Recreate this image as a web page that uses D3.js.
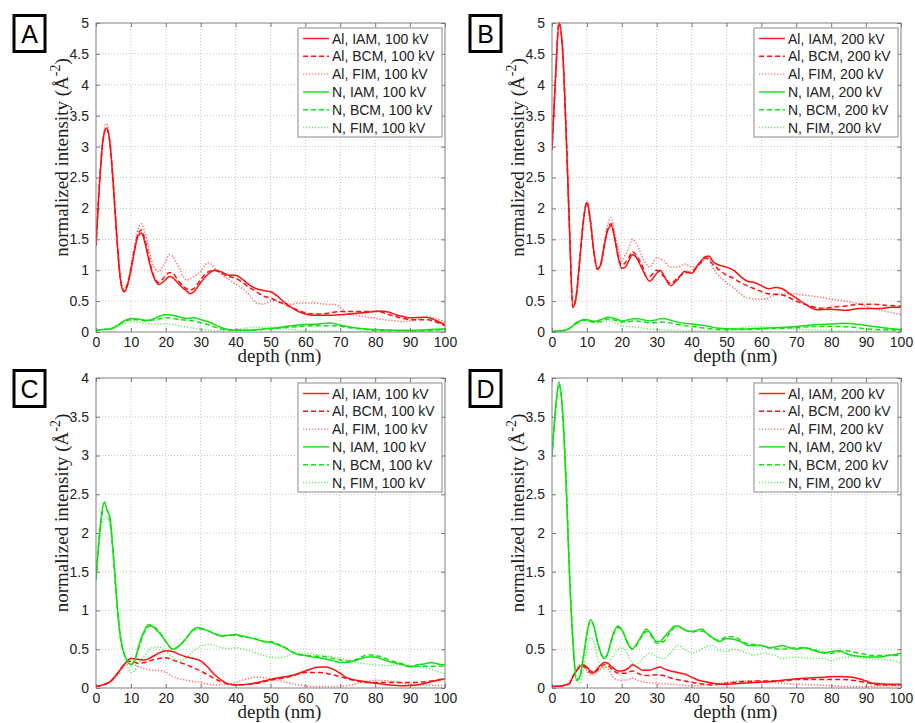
<!DOCTYPE html>
<html>
<head>
<meta charset="utf-8">
<script src="https://cdn.jsdelivr.net/npm/d3@7"></script>
<style>
  body { margin: 0; background: #fff; }
  svg { display: block; }
</style>
</head>
<body>
<svg id="chart"></svg>
<script>
// ---- labels ----
const elements = ["Al", "N"];
const models = ["IAM", "BCM", "FIM"];
const voltages = ["100 kV", "200 kV"];
const panelIds = ["A", "B", "C", "D"];
const depthTicks = d3.range(0, 101, 10);

// ---- values: [depth (nm), normalized intensity] ----
// Panel A: Al at 100 kV
const A_Al_IAM = [[0,1.4],[1,2.4],[2,3.1],[3,3.3],[4,3.05],[5,2.35],[6,1.5],[7,0.85],[8,0.65],[9,0.75],[10,1.0],[11,1.3],[12,1.55],[13,1.6],[14,1.45],[15,1.2],[16,0.98],[17,0.83],[18,0.77],[19,0.8],[20,0.85],[21,0.9],[22,0.88],[23,0.82],[24,0.76],[26,0.66],[27,0.62],[28,0.65],[30,0.8],[32,0.93],[34,1.0],[36,0.97],[38,0.92],[40,0.92],[42,0.85],[44,0.76],[46,0.7],[48,0.67],[50,0.65],[52,0.58],[54,0.48],[56,0.4],[58,0.33],[60,0.29],[62,0.27],[66,0.27],[70,0.28],[74,0.3],[78,0.32],[81,0.34],[84,0.32],[86,0.28],[88,0.25],[90,0.23],[94,0.24],[96,0.22],[98,0.17],[100,0.12]];
const A_Al_BCM = [[0,1.4],[1,2.4],[2,3.1],[3,3.3],[4,3.05],[5,2.35],[6,1.5],[7,0.85],[8,0.66],[9,0.77],[10,1.02],[11,1.33],[12,1.58],[13,1.65],[14,1.5],[15,1.25],[16,1.0],[17,0.85],[18,0.8],[19,0.85],[20,0.92],[21,0.96],[22,0.95],[23,0.88],[24,0.8],[26,0.7],[27,0.68],[28,0.7],[30,0.85],[32,0.97],[34,1.0],[36,0.95],[38,0.9],[40,0.87],[42,0.8],[44,0.72],[46,0.65],[48,0.58],[50,0.55],[52,0.5],[54,0.45],[56,0.4],[58,0.35],[60,0.31],[63,0.29],[66,0.3],[70,0.33],[74,0.33],[78,0.33],[81,0.33],[84,0.28],[88,0.22],[90,0.2],[95,0.2],[98,0.15],[100,0.1]];
const A_Al_FIM = [[0,1.4],[1,2.45],[2,3.15],[3,3.37],[4,3.1],[5,2.4],[6,1.55],[7,0.9],[8,0.7],[9,0.8],[10,1.05],[11,1.38],[12,1.65],[13,1.75],[14,1.62],[15,1.38],[16,1.15],[17,1.02],[18,0.98],[19,1.05],[20,1.15],[21,1.25],[22,1.22],[23,1.12],[24,1.02],[25,0.9],[26,0.84],[27,0.86],[28,0.9],[30,0.98],[32,1.12],[33,1.1],[34,1.03],[36,0.93],[38,0.85],[40,0.78],[42,0.7],[44,0.6],[46,0.47],[48,0.45],[50,0.5],[52,0.5],[54,0.45],[56,0.45],[58,0.47],[62,0.47],[66,0.45],[68,0.45],[70,0.4],[72,0.3],[76,0.26],[80,0.22],[84,0.19],[88,0.17],[92,0.2],[95,0.25],[97,0.22],[100,0.16]];
const A_N_IAM = [[0,0.03],[2,0.04],[4,0.05],[6,0.1],[8,0.18],[10,0.22],[12,0.21],[14,0.19],[16,0.2],[18,0.25],[20,0.28],[22,0.27],[24,0.24],[26,0.22],[28,0.23],[30,0.2],[32,0.17],[34,0.12],[36,0.07],[38,0.04],[40,0.03],[44,0.03],[48,0.05],[52,0.07],[56,0.1],[60,0.12],[64,0.13],[67,0.145],[70,0.11],[74,0.07],[80,0.04],[86,0.03],[90,0.03],[96,0.04],[100,0.05]];
const A_N_BCM = [[0,0.03],[2,0.04],[4,0.05],[6,0.1],[8,0.17],[10,0.2],[12,0.2],[14,0.18],[16,0.19],[18,0.21],[20,0.23],[22,0.22],[24,0.2],[26,0.19],[28,0.18],[30,0.15],[32,0.12],[34,0.08],[36,0.05],[38,0.03],[44,0.03],[50,0.05],[56,0.08],[62,0.1],[68,0.1],[74,0.06],[80,0.03],[90,0.02],[100,0.04]];
const A_N_FIM = [[0,0.03],[4,0.04],[6,0.08],[8,0.14],[10,0.17],[12,0.16],[14,0.14],[16,0.13],[20,0.13],[24,0.1],[28,0.06],[32,0.03],[36,0.02],[40,0.04],[44,0.07],[48,0.08],[52,0.07],[56,0.04],[60,0.02],[70,0.01],[80,0.01],[90,0.01],[100,0.02]];

// Panel B: Al at 200 kV
const B_Al_IAM = [[0,2.95],[1,4.1],[2,5.0],[3,4.6],[4,3.3],[5,1.7],[6,0.4],[7,0.6],[8,1.2],[9,1.8],[10,2.1],[11,1.8],[12,1.3],[13,1.02],[14,1.1],[15,1.4],[16,1.65],[17,1.72],[18,1.5],[19,1.2],[20,1.03],[21,1.05],[22,1.15],[23,1.25],[24,1.22],[26,1.0],[28,0.82],[30,0.95],[31,1.0],[32,0.92],[34,0.75],[36,0.85],[38,0.98],[40,0.95],[42,1.1],[44,1.22],[45,1.23],[46,1.15],[48,1.08],[50,1.05],[52,1.0],[54,0.9],[56,0.82],[58,0.8],[60,0.75],[62,0.7],[64,0.72],[66,0.7],[68,0.62],[70,0.55],[72,0.47],[74,0.4],[76,0.36],[80,0.37],[84,0.35],[88,0.38],[90,0.38],[94,0.38],[97,0.4],[100,0.4]];
const B_Al_BCM = [[0,2.95],[1,4.1],[2,5.0],[3,4.6],[4,3.3],[5,1.7],[6,0.4],[7,0.6],[8,1.2],[9,1.8],[10,2.1],[11,1.8],[12,1.3],[13,1.02],[14,1.1],[15,1.42],[16,1.68],[17,1.75],[18,1.52],[19,1.22],[20,1.08],[21,1.12],[22,1.2],[23,1.3],[24,1.25],[26,1.05],[27,0.9],[28,0.9],[30,1.0],[32,0.9],[34,0.78],[36,0.88],[38,0.95],[40,0.98],[42,1.08],[44,1.2],[46,1.1],[48,1.0],[50,0.92],[52,0.87],[54,0.8],[58,0.7],[62,0.62],[66,0.6],[70,0.5],[74,0.42],[78,0.38],[80,0.4],[84,0.42],[88,0.45],[92,0.45],[96,0.43],[100,0.42]];
const B_Al_FIM = [[0,2.95],[1,4.1],[2,5.0],[3,4.6],[4,3.3],[5,1.7],[6,0.4],[7,0.6],[8,1.2],[9,1.8],[10,2.1],[11,1.8],[12,1.3],[13,1.0],[14,1.12],[15,1.45],[16,1.75],[17,1.85],[18,1.6],[19,1.35],[20,1.15],[21,1.25],[22,1.35],[23,1.5],[24,1.45],[26,1.2],[28,1.05],[30,1.2],[32,1.15],[34,1.05],[36,1.05],[38,1.1],[40,1.05],[42,1.08],[44,1.18],[45,1.2],[46,1.05],[48,0.9],[50,0.8],[52,0.72],[54,0.62],[56,0.55],[60,0.53],[62,0.55],[64,0.6],[68,0.62],[72,0.6],[76,0.57],[80,0.53],[84,0.5],[88,0.45],[92,0.38],[96,0.33],[100,0.28]];
const B_N_IAM = [[0,0.01],[3,0.02],[5,0.06],[7,0.15],[9,0.2],[10,0.2],[12,0.17],[14,0.2],[16,0.24],[18,0.22],[20,0.18],[22,0.2],[24,0.22],[26,0.2],[28,0.18],[30,0.2],[32,0.22],[34,0.19],[36,0.16],[40,0.13],[44,0.1],[48,0.06],[52,0.05],[56,0.05],[60,0.06],[64,0.07],[68,0.08],[72,0.1],[76,0.12],[80,0.13],[84,0.14],[88,0.12],[92,0.09],[96,0.06],[100,0.04]];
const B_N_BCM = [[0,0.01],[3,0.02],[5,0.06],[7,0.14],[9,0.19],[10,0.19],[12,0.16],[14,0.17],[16,0.21],[18,0.19],[20,0.16],[22,0.17],[24,0.18],[28,0.15],[32,0.16],[36,0.12],[40,0.09],[44,0.06],[50,0.04],[56,0.04],[60,0.05],[70,0.07],[76,0.09],[80,0.09],[86,0.08],[90,0.05],[100,0.03]];
const B_N_FIM = [[0,0.01],[3,0.02],[5,0.05],[7,0.13],[9,0.19],[10,0.18],[12,0.15],[14,0.16],[16,0.18],[18,0.15],[20,0.1],[24,0.08],[28,0.05],[32,0.03],[40,0.02],[50,0.03],[54,0.07],[58,0.09],[62,0.08],[66,0.06],[72,0.04],[80,0.02],[90,0.01],[100,0.02]];

// Panel C: N at 100 kV
const C_Al_IAM = [[0,0.02],[2,0.04],[4,0.08],[6,0.18],[8,0.3],[10,0.38],[12,0.37],[14,0.36],[16,0.4],[18,0.45],[20,0.48],[22,0.47],[24,0.43],[26,0.4],[28,0.38],[30,0.35],[32,0.27],[34,0.17],[36,0.1],[38,0.05],[40,0.04],[44,0.05],[48,0.09],[52,0.13],[56,0.16],[60,0.22],[64,0.27],[66,0.27],[68,0.24],[70,0.19],[72,0.13],[76,0.09],[80,0.06],[84,0.04],[88,0.03],[92,0.04],[96,0.08],[100,0.12]];
const C_Al_BCM = [[0,0.02],[2,0.04],[4,0.08],[6,0.18],[8,0.3],[10,0.35],[12,0.32],[14,0.33],[16,0.36],[18,0.38],[20,0.39],[22,0.36],[24,0.33],[26,0.3],[28,0.26],[30,0.22],[32,0.17],[34,0.12],[36,0.08],[38,0.05],[40,0.04],[46,0.06],[50,0.1],[56,0.15],[60,0.2],[64,0.2],[68,0.17],[72,0.12],[76,0.08],[80,0.07],[84,0.07],[90,0.07],[96,0.09],[100,0.12]];
const C_Al_FIM = [[0,0.02],[2,0.04],[4,0.08],[6,0.15],[8,0.28],[10,0.32],[12,0.28],[14,0.25],[16,0.23],[18,0.23],[20,0.2],[22,0.15],[26,0.1],[30,0.07],[34,0.04],[38,0.05],[42,0.1],[46,0.14],[50,0.12],[54,0.08],[58,0.04],[62,0.02],[68,0.02],[72,0.03],[76,0.07],[80,0.1],[84,0.09],[88,0.06],[94,0.04],[100,0.03]];
const C_N_IAM = [[0,1.4],[1,2.0],[2,2.35],[2.5,2.4],[3,2.32],[4,2.2],[5,1.7],[6,1.1],[7,0.65],[8,0.45],[9,0.35],[10,0.3],[11,0.35],[12,0.5],[13,0.65],[14,0.75],[15,0.82],[16,0.8],[18,0.72],[20,0.6],[22,0.5],[24,0.55],[26,0.65],[28,0.76],[29,0.78],[30,0.77],[32,0.74],[34,0.7],[36,0.67],[38,0.68],[40,0.69],[42,0.67],[44,0.65],[46,0.63],[48,0.6],[50,0.59],[52,0.56],[54,0.52],[56,0.47],[58,0.43],[60,0.42],[62,0.4],[64,0.39],[66,0.37],[68,0.35],[70,0.33],[72,0.33],[74,0.35],[76,0.38],[78,0.4],[80,0.4],[82,0.37],[84,0.34],[86,0.32],[88,0.3],[90,0.27],[92,0.3],[94,0.31],[96,0.33],[98,0.31],[100,0.3]];
const C_N_BCM = [[0,1.4],[1,1.95],[2,2.28],[3,2.3],[4,2.15],[5,1.7],[6,1.1],[7,0.65],[8,0.45],[9,0.35],[10,0.3],[11,0.35],[12,0.48],[13,0.62],[14,0.73],[15,0.79],[16,0.8],[18,0.73],[20,0.6],[22,0.5],[24,0.55],[26,0.65],[28,0.75],[30,0.76],[32,0.74],[34,0.7],[36,0.67],[38,0.68],[40,0.68],[42,0.66],[44,0.65],[46,0.63],[48,0.6],[50,0.6],[52,0.57],[54,0.53],[56,0.47],[58,0.44],[60,0.42],[64,0.41],[68,0.38],[70,0.36],[72,0.35],[74,0.36],[76,0.4],[78,0.43],[80,0.42],[82,0.4],[84,0.36],[88,0.31],[90,0.28],[94,0.28],[98,0.28],[100,0.29]];
const C_N_FIM = [[0,1.4],[1,1.9],[2,2.15],[3,2.2],[4,2.1],[5,1.7],[6,1.1],[7,0.7],[8,0.45],[9,0.28],[10,0.2],[11,0.22],[12,0.3],[14,0.42],[16,0.52],[18,0.53],[20,0.47],[22,0.4],[24,0.35],[26,0.4],[28,0.48],[30,0.54],[32,0.56],[34,0.55],[36,0.52],[38,0.51],[40,0.52],[42,0.5],[44,0.48],[46,0.45],[48,0.42],[50,0.4],[52,0.39],[54,0.4],[56,0.43],[58,0.44],[60,0.45],[64,0.43],[68,0.4],[72,0.36],[76,0.32],[80,0.3],[84,0.29],[88,0.3],[92,0.28],[96,0.24],[100,0.18]];

// Panel D: N at 200 kV
const D_Al_IAM = [[0,0.02],[3,0.03],[5,0.06],[6,0.15],[7,0.22],[8,0.28],[9,0.3],[10,0.27],[11,0.22],[12,0.2],[13,0.25],[14,0.3],[15,0.33],[16,0.32],[17,0.28],[18,0.24],[19,0.22],[20,0.22],[22,0.26],[23,0.3],[24,0.28],[26,0.23],[28,0.23],[30,0.26],[31,0.27],[32,0.25],[34,0.22],[36,0.2],[38,0.18],[40,0.14],[42,0.1],[44,0.08],[46,0.06],[48,0.05],[50,0.05],[54,0.06],[58,0.07],[62,0.08],[66,0.1],[70,0.12],[74,0.13],[78,0.14],[82,0.15],[86,0.14],[88,0.12],[90,0.09],[92,0.06],[96,0.05],[100,0.05]];
const D_Al_BCM = [[0,0.02],[3,0.03],[5,0.06],[6,0.15],[7,0.22],[8,0.27],[9,0.28],[10,0.25],[11,0.2],[12,0.19],[13,0.23],[14,0.28],[15,0.3],[16,0.29],[17,0.25],[18,0.21],[19,0.19],[21,0.19],[23,0.22],[25,0.18],[27,0.16],[30,0.17],[32,0.16],[34,0.13],[38,0.09],[42,0.06],[46,0.04],[50,0.06],[54,0.08],[60,0.09],[66,0.09],[70,0.11],[74,0.11],[78,0.11],[82,0.11],[86,0.1],[90,0.07],[94,0.04],[100,0.04]];
const D_Al_FIM = [[0,0.02],[3,0.03],[5,0.05],[6,0.15],[7,0.25],[8,0.3],[9,0.27],[10,0.22],[11,0.17],[12,0.18],[14,0.25],[15,0.27],[16,0.25],[17,0.18],[18,0.12],[20,0.1],[22,0.11],[23,0.13],[24,0.11],[26,0.08],[30,0.06],[34,0.05],[40,0.03],[46,0.05],[50,0.07],[54,0.09],[58,0.09],[62,0.08],[66,0.06],[70,0.05],[76,0.04],[80,0.03],[86,0.02],[90,0.02],[96,0.03],[100,0.03]];
const D_N_IAM = [[0,3.0],[1,3.6],[2,3.95],[3,3.6],[4,2.7],[5,1.5],[6,0.6],[7,0.1],[8,0.15],[9,0.4],[10,0.7],[11,0.88],[12,0.8],[13,0.6],[14,0.45],[15,0.38],[16,0.45],[17,0.62],[18,0.75],[19,0.8],[20,0.75],[22,0.55],[23,0.5],[24,0.55],[26,0.7],[27,0.76],[28,0.72],[30,0.6],[31,0.6],[32,0.65],[34,0.75],[35,0.8],[36,0.8],[38,0.75],[40,0.73],[42,0.75],[43,0.76],[44,0.72],[46,0.65],[48,0.6],[50,0.64],[52,0.63],[54,0.6],[56,0.55],[58,0.55],[60,0.55],[62,0.52],[64,0.53],[66,0.55],[68,0.52],[70,0.5],[72,0.52],[74,0.5],[76,0.47],[78,0.45],[80,0.47],[82,0.48],[84,0.45],[86,0.42],[88,0.41],[90,0.4],[94,0.4],[96,0.42],[98,0.43],[100,0.45]];
const D_N_BCM = [[0,3.0],[1,3.58],[2,3.92],[3,3.58],[4,2.7],[5,1.5],[6,0.6],[7,0.1],[8,0.15],[9,0.4],[10,0.68],[11,0.86],[12,0.8],[13,0.6],[14,0.45],[15,0.38],[16,0.45],[17,0.6],[18,0.73],[19,0.78],[20,0.75],[22,0.56],[23,0.5],[24,0.54],[26,0.68],[27,0.73],[28,0.7],[30,0.58],[32,0.6],[34,0.73],[36,0.8],[38,0.75],[40,0.72],[42,0.74],[44,0.72],[46,0.64],[48,0.62],[50,0.66],[52,0.66],[54,0.62],[56,0.57],[60,0.55],[62,0.52],[66,0.5],[70,0.52],[74,0.51],[76,0.48],[80,0.45],[84,0.48],[88,0.45],[92,0.42],[96,0.42],[100,0.42]];
const D_N_FIM = [[0,3.0],[1,3.55],[2,3.9],[3,3.55],[4,2.6],[5,1.45],[6,0.6],[7,0.15],[8,0.05],[9,0.25],[10,0.5],[11,0.65],[12,0.6],[13,0.4],[14,0.28],[15,0.25],[16,0.3],[18,0.45],[20,0.52],[21,0.5],[22,0.4],[24,0.3],[26,0.38],[28,0.45],[30,0.4],[32,0.38],[34,0.45],[36,0.55],[38,0.5],[40,0.45],[42,0.48],[44,0.53],[46,0.55],[48,0.48],[50,0.47],[52,0.5],[54,0.48],[56,0.45],[58,0.42],[60,0.45],[64,0.42],[66,0.38],[70,0.4],[74,0.38],[78,0.38],[80,0.35],[82,0.38],[86,0.4],[90,0.38],[94,0.37],[98,0.35],[100,0.32]];

// y-axis maxima per panel
const yMaxima = [5, 5, 4, 4];

// ---- styles ----
const colors = { Al: "#ff1010", N: "#12e012" };
const dashes = { IAM: null, BCM: "5,3", FIM: "1.3,1.7" };
const opacities = { IAM: 1, BCM: 1, FIM: 0.6 };

const width = 915, height = 723;
const svg = d3.select("#chart").attr("width", width).attr("height", height);

const panelSeries = [
    [A_Al_IAM, A_Al_BCM, A_Al_FIM, A_N_IAM, A_N_BCM, A_N_FIM],
    [B_Al_IAM, B_Al_BCM, B_Al_FIM, B_N_IAM, B_N_BCM, B_N_FIM],
    [C_Al_IAM, C_Al_BCM, C_Al_FIM, C_N_IAM, C_N_BCM, C_N_FIM],
    [D_Al_IAM, D_Al_BCM, D_Al_FIM, D_N_IAM, D_N_BCM, D_N_FIM]
];

// plot rectangles for the 2x2 layout
const layout = [
    { left: 96,  top: 23,  w: 349, h: 309 },
    { left: 552, top: 23,  w: 349, h: 309 },
    { left: 96,  top: 378, w: 349, h: 310 },
    { left: 552, top: 378, w: 349, h: 310 }
];

panelIds.forEach((id, i) => drawPanel(id, i));

function drawPanel(id, i) {
    const box = layout[i];
    const kv = voltages[i % 2];
    const yMax = yMaxima[i];

    const x = d3.scaleLinear().domain([0, 100]).range([box.left, box.left + box.w]);
    const y = d3.scaleLinear().domain([0, yMax]).range([box.top + box.h, box.top]);
    const yTicks = d3.range(0, yMax + 0.001, 0.5);

    const g = svg.append("g").attr("class", "panel-" + id);

    // clip for the curves
    g.append("clipPath").attr("id", "clip" + id)
        .append("rect")
        .attr("x", box.left).attr("y", box.top - 1)
        .attr("width", box.w).attr("height", box.h + 1);

    // dotted grid
    const grid = g.append("g").attr("stroke", "#c4c4c4").attr("stroke-dasharray", "1,2");
    grid.selectAll("line.gx")
        .data(depthTicks.slice(1, -1))
        .join("line")
        .attr("x1", d => x(d)).attr("x2", d => x(d))
        .attr("y1", box.top).attr("y2", box.top + box.h);
    grid.selectAll("line.gy")
        .data(yTicks.slice(1, -1))
        .join("line")
        .attr("y1", d => y(d)).attr("y2", d => y(d))
        .attr("x1", box.left).attr("x2", box.left + box.w);

    // axes (matlab style: inward ticks on all sides)
    const axisStyle = sel => {
        sel.select(".domain").remove();
        sel.selectAll(".tick line").attr("stroke", "#777");
        sel.selectAll(".tick text")
            .attr("font-family", "Liberation Sans, Arial, sans-serif")
            .attr("font-size", 14)
            .attr("fill", "#222");
    };
    g.append("g")
        .attr("transform", `translate(0,${box.top + box.h})`)
        .call(d3.axisBottom(x).tickValues(depthTicks).tickSizeInner(-4).tickPadding(5).tickFormat(d3.format("d")))
        .call(axisStyle);
    g.append("g")
        .attr("transform", `translate(0,${box.top})`)
        .call(d3.axisTop(x).tickValues(depthTicks).tickSizeInner(-4).tickFormat(""))
        .call(axisStyle);
    g.append("g")
        .attr("transform", `translate(${box.left},0)`)
        .call(d3.axisLeft(y).tickValues(yTicks).tickSizeInner(-4).tickPadding(7).tickFormat(d3.format("~g")))
        .call(axisStyle);
    g.append("g")
        .attr("transform", `translate(${box.left + box.w},0)`)
        .call(d3.axisRight(y).tickValues(yTicks).tickSizeInner(-4).tickFormat(""))
        .call(axisStyle);

    // the curves
    const line = d3.line()
        .x(d => x(d[0]))
        .y(d => y(d[1]))
        .curve(d3.curveMonotoneX);

    const entries = [];
    elements.forEach(el => models.forEach(m => entries.push({ el, m })));

    g.append("g")
        .attr("clip-path", `url(#clip${id})`)
        .selectAll("path")
        .data(entries)
        .join("path")
        .attr("d", (d, k) => line(panelSeries[i][k]))
        .attr("fill", "none")
        .attr("stroke", d => colors[d.el])
        .attr("stroke-width", 1.5)
        .attr("stroke-dasharray", d => dashes[d.m])
        .attr("stroke-opacity", d => opacities[d.m]);

    // frame
    g.append("rect")
        .attr("x", box.left).attr("y", box.top)
        .attr("width", box.w).attr("height", box.h)
        .attr("fill", "none").attr("stroke", "#808080");

    // legend
    const lgX = box.left + box.w - 147, lgY = box.top + 5;
    const legend = g.append("g");
    legend.append("rect")
        .attr("x", lgX).attr("y", lgY)
        .attr("width", 144).attr("height", 109)
        .attr("fill", "#fff").attr("stroke", "#8a8a8a");
    const item = legend.selectAll("g.item")
        .data(entries)
        .join("g")
        .attr("transform", (d, k) => `translate(${lgX},${lgY + 10.5 + k * 17.8})`);
    item.append("line")
        .attr("x1", 5).attr("x2", 31)
        .attr("stroke", d => colors[d.el])
        .attr("stroke-width", 1.4)
        .attr("stroke-dasharray", d => dashes[d.m])
        .attr("stroke-opacity", d => opacities[d.m]);
    item.append("text")
        .attr("x", 34).attr("dy", "0.36em")
        .attr("font-family", "Liberation Sans, Arial, sans-serif")
        .attr("font-size", 14)
        .attr("fill", "#222")
        .text(d => `${d.el}, ${d.m}, ${kv}`);

    // axis labels (latex-like serif)
    g.append("text")
        .attr("x", box.left + box.w / 2 + 9)
        .attr("y", box.top + box.h + 30)
        .attr("text-anchor", "middle")
        .attr("font-family", "Liberation Serif, Times New Roman, serif")
        .attr("font-size", 19)
        .attr("fill", "#222")
        .text("depth (nm)");

    const yl = g.append("text")
        .attr("transform", `translate(${box.left - 28},${box.top + box.h / 2 - 20}) rotate(-90)`)
        .attr("text-anchor", "middle")
        .attr("font-family", "Liberation Serif, Times New Roman, serif")
        .attr("font-size", 19)
        .attr("fill", "#222");
    yl.append("tspan").text("normalized intensity (Å");
    yl.append("tspan").attr("dy", -8).attr("font-size", 14).text("-2");
    yl.append("tspan").attr("dy", 8).text(")");

    // panel letter box
    const bx = box.left - 82, by = box.top - 7.5;
    g.append("rect")
        .attr("x", bx).attr("y", by)
        .attr("width", 31).attr("height", 36)
        .attr("fill", "#fff").attr("stroke", "#000").attr("stroke-width", 3);
    g.append("text")
        .attr("x", bx + 15.5).attr("y", by + 27)
        .attr("text-anchor", "middle")
        .attr("font-family", "Liberation Sans, Arial, sans-serif")
        .attr("font-size", 25)
        .attr("fill", "#000")
        .text(id);
}
</script>
</body>
</html>
